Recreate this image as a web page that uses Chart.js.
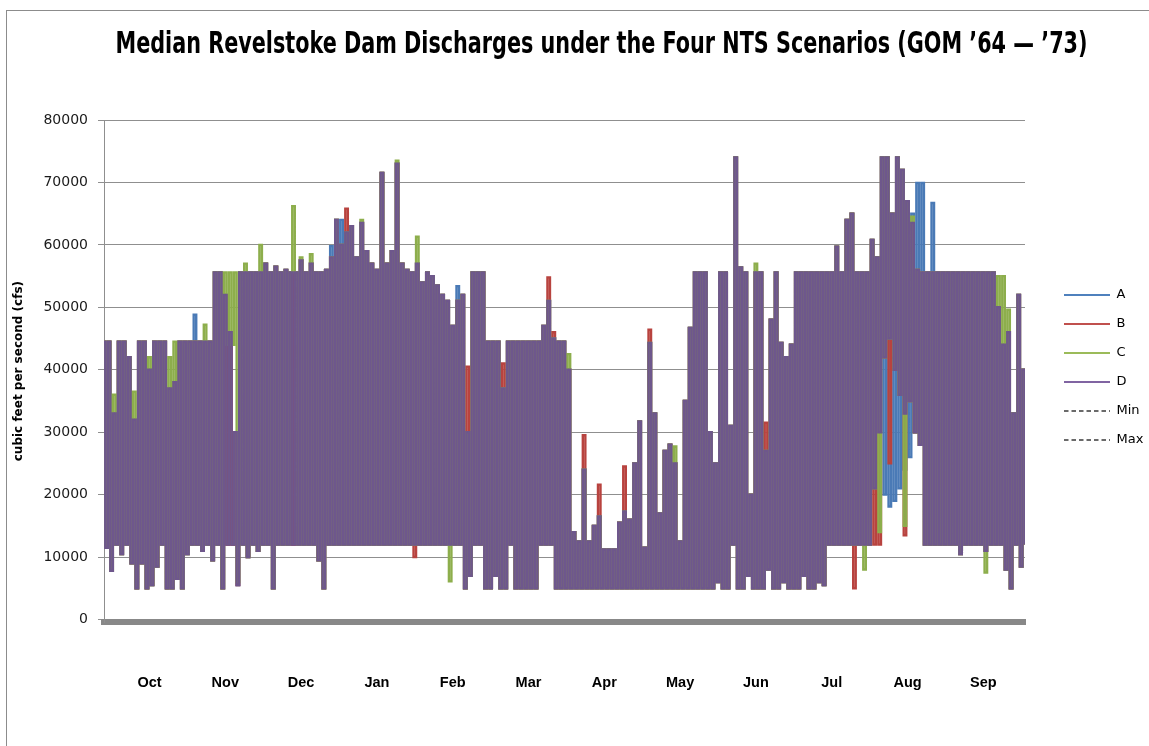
<!DOCTYPE html>
<html>
<head>
<meta charset="utf-8">
<script src="https://cdn.jsdelivr.net/npm/chart.js@4.4.1/dist/chart.umd.min.js"></script>
<style>
html,body{margin:0;padding:0;background:#fff;overflow:hidden;width:1149px;height:746px;}
#frame{position:absolute;left:6px;top:10px;width:1300px;height:800px;border-left:1px solid #8c8c8c;border-top:1px solid #8c8c8c;}
#c{position:absolute;left:0;top:0;}
</style>
</head>
<body>
<div id="frame"><canvas id="c" width="1189" height="713"></canvas></div>
<script>
// ---- data (one value per day of the water year, Oct 1 = day 0) ----
const chartTitle = 'Median Revelstoke Dam Discharges under the Four NTS Scenarios (GOM \u201964 \u2014 \u201973)';
const months = ['Oct','Nov','Dec','Jan','Feb','Mar','Apr','May','Jun','Jul','Aug','Sep'];
const monthTickDays = [18.5, 48.5, 78.5, 108.5, 138.5, 168.5, 198.5, 228.5, 258.5, 288.5, 318.5, 348.5];
const yTicks = [0, 10000, 20000, 30000, 40000, 50000, 60000, 70000, 80000];
const seriesNames = ['A', 'B', 'C', 'D', 'Min', 'Max'];

const seriesA = [
44500,11500, 44500,7800, 33000,12000, 44500,10500, 44500,12000, 42000,9000, 32000,5000, 44500,9000, 44500,5000, 40000,5500,
44500,8500, 44500,12000, 44500,5000, 37000,5000, 38000,6500, 44500,5000, 44500,10500, 44500,12000, 48800,12000, 44500,11000,
44500,12000, 44500,9500, 55600,12000, 55600,5000, 52000,12000, 46000,12000, 30000,5500, 55600,12000, 55600,10000, 55600,12000,
55600,11000, 55600,12000, 57000,12000, 55600,5000, 56500,12000, 55600,12000, 56000,12000, 55600,12000, 55600,12000, 57500,12000,
55600,12000, 57000,12000, 55600,9500, 55600,5000, 56000,12000, 59800,12000, 64000,12000, 64000,12000, 62000,12000, 63000,12000,
58000,12000, 63500,12000, 59000,12000, 57000,12000, 56000,12000, 71500,12000, 57000,12000, 59000,12000, 73000,12000, 57000,12000,
56000,12000, 55600,12000, 57000,12000, 54000,12000, 55600,12000, 55000,12000, 53500,12000, 52000,12000, 51000,12000, 47000,12000,
53400,12000, 52000,5000, 30000,7000, 55600,12000, 55600,12000, 55600,5000, 44500,5000, 44500,7000, 44500,5000, 37000,5000,
44500,12000, 44500,5000, 44500,5000, 44500,5000, 44500,5000, 44500,5000, 44500,12000, 47000,12000, 51000,12000, 45000,5000,
44500,5000, 44500,5000, 40000,5000, 14000,5000, 12500,5000, 24000,5000, 12500,5000, 15000,5000, 16500,5000, 11200,5000,
11200,5000, 11200,5000, 15500,5000, 17300,5000, 16000,5000, 25000,5000, 31700,5000, 11500,5000, 44300,5000, 33000,5000,
17000,5000, 27000,5000, 28000,5000, 25000,5000, 12500,5000, 35000,5000, 46700,5000, 55600,5000, 55600,5000, 55600,5000,
30000,5000, 25000,6000, 55600,5000, 55600,5000, 31000,12000, 74000,5000, 56400,5000, 55600,7000, 20000,5000, 55600,5000,
55600,5000, 27000,8000, 48000,5000, 55600,5000, 44300,6000, 42000,5000, 44000,5000, 55600,5000, 55600,7000, 55600,5000,
55600,5000, 55600,6000, 55600,5500, 55600,12000, 55600,12000, 59700,12000, 55600,12000, 64000,12000, 65000,12000, 55600,12000,
55600,12000, 55600,12000, 60800,21000, 58000,30000, 74000,20000, 74000,18100, 65000,19000, 74000,21000, 72000,24000, 67000,26000,
65000,30000, 69900,28000, 69900,12000, 55600,12000, 66700,12000, 55600,12000, 55600,12000, 55600,12000, 55600,12000, 55600,10500,
55600,12000, 55600,12000, 55600,12000, 55600,12000, 55600,11000, 55600,12000, 55600,12000, 50000,12000, 44000,8000, 46000,5000,
33000,12000, 52000,8500, 40000,12000
];

const seriesB = [
44500,11500, 44500,7800, 33000,12000, 44500,10500, 44500,12000, 42000,9000, 32000,5000, 44500,9000, 44500,5000, 40000,5500,
44500,8500, 44500,12000, 44500,5000, 37000,5000, 38000,6500, 44500,5000, 44500,10500, 44500,12000, 44500,12000, 44500,11000,
44500,12000, 44500,9500, 55600,12000, 55600,5000, 52000,12000, 46000,12000, 30000,5500, 55600,12000, 55600,10000, 55600,12000,
55600,11000, 55600,12000, 57000,12000, 55600,5000, 56500,12000, 55600,12000, 56000,12000, 55600,12000, 55600,12000, 57500,12000,
55600,12000, 57000,12000, 55600,9500, 55600,5000, 56000,12000, 58000,12000, 64000,12000, 60000,12000, 65800,12000, 63000,12000,
58000,12000, 63500,12000, 59000,12000, 57000,12000, 56000,12000, 71500,12000, 57000,12000, 59000,12000, 73000,12000, 57000,12000,
56000,12000, 55600,10000, 57000,12000, 54000,12000, 55600,12000, 55000,12000, 53500,12000, 52000,12000, 51000,12000, 47000,12000,
51000,12000, 52000,5000, 40500,7000, 55600,12000, 55600,12000, 55600,5000, 44500,5000, 44500,7000, 44500,5000, 41000,5000,
44500,12000, 44500,5000, 44500,5000, 44500,5000, 44500,5000, 44500,5000, 44500,12000, 47000,12000, 54800,12000, 46000,5000,
44500,5000, 44500,5000, 40000,5000, 14000,5000, 12500,5000, 29500,5000, 12500,5000, 15000,5000, 21600,5000, 11200,5000,
11200,5000, 11200,5000, 15500,5000, 24500,5000, 16000,5000, 25000,5000, 31700,5000, 11500,5000, 46400,5000, 33000,5000,
17000,5000, 27000,5000, 28000,5000, 25000,5000, 12500,5000, 35000,5000, 46700,5000, 55600,5000, 55600,5000, 55600,5000,
30000,5000, 25000,6000, 55600,5000, 55600,5000, 31000,12000, 74000,5000, 56400,5000, 55600,7000, 20000,5000, 55600,5000,
55600,5000, 31500,8000, 48000,5000, 55600,5000, 44300,6000, 42000,5000, 44000,5000, 55600,5000, 55600,7000, 55600,5000,
55600,5000, 55600,6000, 55600,5500, 55600,12000, 55600,12000, 59700,12000, 55600,12000, 64000,12000, 65000,5000, 55600,12000,
55600,12000, 55600,12000, 60800,12000, 58000,12000, 74000,42000, 74000,25000, 65000,40000, 74000,36000, 72000,13500, 67000,35000,
63500,30000, 56000,28000, 55600,12000, 55600,12000, 55600,12000, 55600,12000, 55600,12000, 55600,12000, 55600,12000, 55600,10500,
55600,12000, 55600,12000, 55600,12000, 55600,12000, 55600,11000, 55600,12000, 55600,12000, 50000,12000, 44000,8000, 46000,5000,
33000,12000, 52000,8500, 40000,12000
];

const seriesC = [
44500,11500, 44500,7800, 36000,12000, 44500,10500, 44500,12000, 42000,9000, 36500,5000, 44500,9000, 44500,5000, 42000,5500,
44500,8500, 44500,12000, 44500,5000, 42000,5000, 44500,6500, 44500,5000, 44500,10500, 44500,12000, 44500,12000, 44500,11000,
47200,12000, 44500,9500, 55600,12000, 55600,5000, 55600,44000, 55600,44000, 55600,6000, 55600,12000, 57000,10000, 55600,12000,
55600,11000, 60000,12000, 57000,12000, 55600,5000, 56500,12000, 55600,12000, 56000,12000, 55600,66200, 55600,12000, 58000,12000,
55600,12000, 58500,12000, 55600,9500, 55600,5000, 56000,12000, 58000,12000, 64000,12000, 60000,12000, 62000,12000, 63000,12000,
58000,12000, 64000,12000, 59000,12000, 57000,12000, 56000,12000, 71500,12000, 57000,12000, 59000,12000, 73500,12000, 57000,12000,
56000,12000, 55600,12000, 61300,12000, 54000,12000, 55600,12000, 55000,12000, 53500,12000, 52000,12000, 51000,6100, 47000,12000,
51000,12000, 52000,5000, 30000,7000, 55600,12000, 55600,12000, 55600,5000, 44500,5000, 44500,7000, 44500,5000, 37000,5000,
44500,12000, 44500,5000, 44500,5000, 44500,5000, 44500,5000, 44500,5000, 44500,12000, 47000,12000, 51000,12000, 45000,5000,
44500,5000, 44500,5000, 42500,5000, 14000,5000, 12500,5000, 24000,5000, 12500,5000, 15000,5000, 16500,5000, 11200,5000,
11200,5000, 11200,5000, 15500,5000, 17300,5000, 16000,5000, 25000,5000, 31700,5000, 11500,5000, 44300,5000, 33000,5000,
17000,5000, 27000,5000, 28000,5000, 27700,5000, 12500,5000, 35000,5000, 46700,5000, 55600,5000, 55600,5000, 55600,5000,
30000,5000, 25000,6000, 55600,5000, 55600,5000, 31000,12000, 74000,5000, 56400,5000, 55600,7000, 20000,5000, 57000,5000,
55600,5000, 27000,8000, 48000,5000, 55600,5000, 44300,6000, 42000,5000, 44000,5000, 55600,5000, 55600,7000, 55600,5000,
55600,5000, 55600,6000, 55600,5500, 55600,12000, 55600,12000, 59700,12000, 55600,12000, 64000,12000, 65000,12000, 55600,12000,
55600,8000, 55600,12000, 60800,21000, 58000,14000, 74000,42000, 74000,45000, 65000,40000, 74000,36000, 72000,15000, 67000,35000,
64500,30000, 56000,28000, 55600,12000, 55600,12000, 55600,12000, 55600,12000, 55600,12000, 55600,12000, 55600,12000, 55600,10500,
55600,12000, 55600,12000, 55600,12000, 55600,12000, 55600,7500, 55600,12000, 55600,12000, 55000,12000, 55000,8000, 49600,5000,
33000,12000, 52000,8500, 40000,12000
];

const seriesD = [
44500,11500, 44500,7800, 33000,12000, 44500,10500, 44500,12000, 42000,9000, 32000,5000, 44500,9000, 44500,5000, 40000,5500,
44500,8500, 44500,12000, 44500,5000, 37000,5000, 38000,6500, 44500,5000, 44500,10500, 44500,12000, 44500,12000, 44500,11000,
44500,12000, 44500,9500, 55600,12000, 55600,5000, 52000,12000, 46000,12000, 30000,5500, 55600,12000, 55600,10000, 55600,12000,
55600,11000, 55600,12000, 57000,12000, 55600,5000, 56500,12000, 55600,12000, 56000,12000, 55600,12000, 55600,12000, 57500,12000,
55600,12000, 57000,12000, 55600,9500, 55600,5000, 56000,12000, 58000,12000, 64000,12000, 60000,12000, 62000,12000, 63000,12000,
58000,12000, 63500,12000, 59000,12000, 57000,12000, 56000,12000, 71500,12000, 57000,12000, 59000,12000, 73000,12000, 57000,12000,
56000,12000, 55600,12000, 57000,12000, 54000,12000, 55600,12000, 55000,12000, 53500,12000, 52000,12000, 51000,12000, 47000,12000,
51000,12000, 52000,5000, 30000,7000, 55600,12000, 55600,12000, 55600,5000, 44500,5000, 44500,7000, 44500,5000, 37000,5000,
44500,12000, 44500,5000, 44500,5000, 44500,5000, 44500,5000, 44500,5000, 44500,12000, 47000,12000, 51000,12000, 45000,5000,
44500,5000, 44500,5000, 40000,5000, 14000,5000, 12500,5000, 24000,5000, 12500,5000, 15000,5000, 16500,5000, 11200,5000,
11200,5000, 11200,5000, 15500,5000, 17300,5000, 16000,5000, 25000,5000, 31700,5000, 11500,5000, 44300,5000, 33000,5000,
17000,5000, 27000,5000, 28000,5000, 25000,5000, 12500,5000, 35000,5000, 46700,5000, 55600,5000, 55600,5000, 55600,5000,
30000,5000, 25000,6000, 55600,5000, 55600,5000, 31000,12000, 74000,5000, 56400,5000, 55600,7000, 20000,5000, 55600,5000,
55600,5000, 27000,8000, 48000,5000, 55600,5000, 44300,6000, 42000,5000, 44000,5000, 55600,5000, 55600,7000, 55600,5000,
55600,5000, 55600,6000, 55600,5500, 55600,12000, 55600,12000, 59700,12000, 55600,12000, 64000,12000, 65000,12000, 55600,12000,
55600,12000, 55600,12000, 60800,21000, 58000,30000, 74000,42000, 74000,45000, 65000,40000, 74000,36000, 72000,33000, 67000,35000,
63500,30000, 56000,28000, 55600,12000, 55600,12000, 55600,12000, 55600,12000, 55600,12000, 55600,12000, 55600,12000, 55600,10500,
55600,12000, 55600,12000, 55600,12000, 55600,12000, 55600,11000, 55600,12000, 55600,12000, 50000,12000, 44000,8000, 46000,5000,
33000,12000, 52000,8500, 40000,12000
];

const seriesMin = [];
const seriesMax = [];

// ---- styling ----
const lineColors   = ['#4A7AB6', '#B8433F', '#8DAE4C', '#6E578C', '#333333', '#333333'];
const legendColors = ['#4F81BD', '#C0504D', '#9BBB59', '#8064A2', '#3a3a3a', '#3a3a3a'];
const legendWidths = [2, 2, 2, 2, 1.4, 1.4];
const legendDashes = [[], [], [], [], [4.5, 3], [4.5, 3]];
const drawOrder    = [4, 3, 2, 1, 5, 6];

const CANVAS_W = 1189;
const PLOT_LEFT = 97, PLOT_RIGHT = 1018, GAP_W = 23;
const TITLE_FONT = { family: '"DejaVu Sans Condensed", "DejaVu Sans", sans-serif', weight: 'bold', size: 31 };
const TITLE_WIDTH = 972;

const toPoints = vals => vals.map((v, i) => ({ x: i, y: v }));
const allSeries = [seriesA, seriesB, seriesC, seriesD, seriesMin, seriesMax];

const datasets = allSeries.map((vals, i) => ({
  label: seriesNames[i],
  data: toPoints(vals),
  borderColor: lineColors[i],
  backgroundColor: lineColors[i],
  borderWidth: i < 4 ? 2.4 : 1.4,
  borderDash: legendDashes[i],
  borderJoinStyle: 'miter',
  stepped: 'before',
  pointRadius: 0,
  tension: 0,
  fill: false,
  order: drawOrder[i],
  xAxisID: 'x',
  yAxisID: 'y'
}));

// squeeze the (real-text) Chart.js title horizontally to the condensed width of the original
const titleFit = {
  id: 'titleFit',
  afterInit(chart) {
    const tb = chart.titleBlock;
    if (!tb) return;
    const origDraw = tb.draw.bind(tb);
    tb.draw = function (area) {
      const ctx = chart.ctx;
      ctx.save();
      ctx.font = TITLE_FONT.weight + ' ' + TITLE_FONT.size + 'px ' + TITLE_FONT.family;
      const w = ctx.measureText(chartTitle).width;
      ctx.restore();
      const boxW = tb.right - tb.left;
      const k = TITLE_WIDTH / Math.min(w, boxW);
      const cx = (tb.left + tb.right) / 2;
      ctx.save();
      ctx.translate(cx, 0); ctx.scale(k, 1); ctx.translate(-cx, 0);
      origDraw(area);
      ctx.restore();
    };
  }
};

Chart.defaults.font.family = '"DejaVu Sans", sans-serif';

new Chart(document.getElementById('c'), {
  type: 'line',
  data: { datasets },
  plugins: [titleFit],
  options: {
    responsive: false,
    devicePixelRatio: 1,
    animation: false,
    events: [],
    layout: { padding: 0 },
    plugins: {
      title: {
        display: true,
        text: chartTitle,
        color: '#000',
        font: TITLE_FONT,
        padding: { top: 15.2, bottom: 56.6 }
      },
      legend: {
        position: 'right',
        fullSize: true,
        align: 'center',
        labels: {
          usePointStyle: true,
          pointStyle: 'line',
          pointStyleWidth: 46,
          padding: 16,
          color: '#000',
          font: { family: '"DejaVu Sans", sans-serif', size: 13 },
          sort: (a, b) => a.datasetIndex - b.datasetIndex,
          generateLabels: chart => {
            const items = Chart.defaults.plugins.legend.labels.generateLabels(chart);
            items.forEach(it => {
              const i = it.datasetIndex;
              it.strokeStyle = legendColors[i];
              it.fillStyle = legendColors[i];
              it.lineWidth = legendWidths[i];
              it.lineDash = legendDashes[i];
              it.pointStyle = 'line';
            });
            return items;
          }
        }
      },
      tooltip: { enabled: false }
    },
    scales: {
      x: {
        type: 'linear',
        position: 'bottom',
        min: 0.5,
        max: 365,
        grid: { display: false, drawTicks: false },
        border: { display: true, color: '#888888', width: 6 },
        afterBuildTicks: s => { s.ticks = monthTickDays.map(v => ({ value: v })); },
        ticks: {
          autoSkip: false,
          maxRotation: 0,
          padding: 52.5,
          color: '#000',
          font: { family: '"Liberation Sans", Arial, sans-serif', weight: 'bold', size: 14.5 },
          callback: (v, i) => months[i]
        },
        afterFit: s => { s.height = 713 - 611.25; }
      },
      y: {
        type: 'linear',
        position: 'left',
        min: -440,
        max: 80000,
        afterBuildTicks: s => { s.ticks = yTicks.map(v => ({ value: v })); },
        grid: { color: '#8f8f8f', lineWidth: 1, tickLength: 6, drawTicks: true },
        border: { display: true, color: '#8f8f8f', width: 1 },
        ticks: {
          padding: 10,
          color: '#1a1a1a',
          font: { family: '"DejaVu Sans", sans-serif', size: 14 },
          callback: v => String(v)
        },
        title: {
          display: true,
          text: 'cubic feet per second (cfs)',
          color: '#000',
          font: { family: '"DejaVu Sans", sans-serif', weight: 'bold', size: 12 },
          padding: { top: 5, bottom: 0 }
        },
        afterFit: s => { s.width = PLOT_LEFT; }
      },
      gap: {
        type: 'linear', position: 'right', display: true, weight: 0,
        grid: { display: false, drawTicks: false }, border: { display: false }, ticks: { display: false },
        afterFit: s => { s.width = GAP_W; }
      },
      pad: {
        type: 'linear', position: 'right', display: true, weight: 2000,
        grid: { display: false, drawTicks: false }, border: { display: false }, ticks: { display: false },
        afterFit: s => {
          const lw = (s.chart.legend && s.chart.legend.width) || 105;
          s.width = Math.max(0, CANVAS_W - PLOT_RIGHT - GAP_W - lw);
        }
      }
    }
  }
});
</script>
</body>
</html>
